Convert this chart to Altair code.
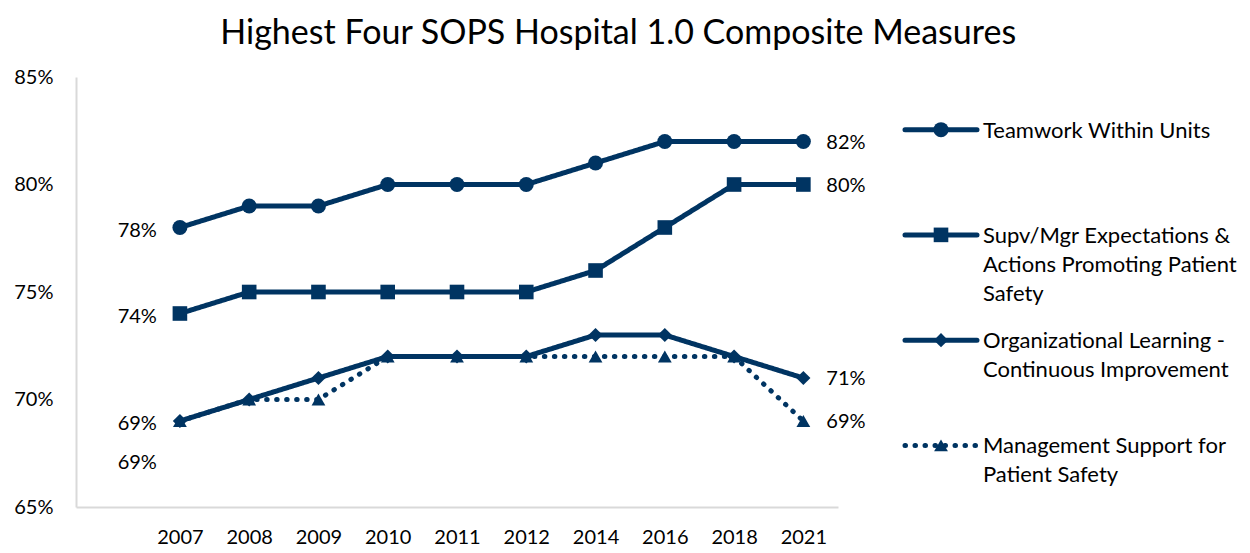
import altair as alt
import pandas as pd

years = ["2007", "2008", "2009", "2010", "2011", "2012", "2014", "2016", "2018", "2021"]
series = [
    "Teamwork Within Units",
    "Supv/Mgr Expectations & Actions Promoting Patient Safety",
    "Organizational Learning - Continuous Improvement",
    "Management Support for Patient Safety",
]
legend_lines = [
    ["Teamwork Within Units"],
    ["Supv/Mgr Expectations &", "Actions Promoting Patient", "Safety"],
    ["Organizational Learning -", "Continuous Improvement"],
    ["Management Support for", "Patient Safety"],
]
teamwork = [0.78, 0.79, 0.79, 0.80, 0.80, 0.80, 0.81, 0.82, 0.82, 0.82]
supv = [0.74, 0.75, 0.75, 0.75, 0.75, 0.75, 0.76, 0.78, 0.80, 0.80]
orglearn = [0.69, 0.70, 0.71, 0.72, 0.72, 0.72, 0.73, 0.73, 0.72, 0.71]
mgmt = [0.69, 0.70, 0.70, 0.72, 0.72, 0.72, 0.72, 0.72, 0.72, 0.69]
y_ticks = [0.65, 0.70, 0.75, 0.80, 0.85]

values = [teamwork, supv, orglearn, mgmt]
rows = []
for s, vals in zip(series, values):
    for yr, v in zip(years, vals):
        rows.append({"year": yr, "series": s, "value": v})
df = pd.DataFrame(rows)

leg_df = pd.DataFrame({"series": series, "label": ["\n".join(l) for l in legend_lines]})

NAVY = "#003462"
FONT = "Lato"
x_domain = [" "] + years

shape_scale = alt.Scale(domain=series, range=["circle", "square", "diamond", "triangle-up"])
size_scale = alt.Scale(domain=series, range=[225, 190, 200, 320])
dash_scale = alt.Scale(domain=series, range=[[1, 0], [1, 0], [1, 0], [0.5, 9.5]])

x_enc = alt.X(
    "year:O",
    scale=alt.Scale(type="point", domain=x_domain, padding=0.5),
    axis=alt.Axis(title=None, labelAngle=0, ticks=False, labelPadding=20,
                  domainColor="#d9d9d9", domainWidth=2),
)
y_enc = alt.Y(
    "value:Q",
    scale=alt.Scale(domain=[0.65, 0.85], nice=False, zero=False),
    axis=alt.Axis(title=None, values=y_ticks, format=".0%", grid=False, ticks=False,
                  labelPadding=23, domainColor="#d9d9d9", domainWidth=2),
)

base = alt.Chart(df).encode(x=x_enc, y=y_enc)

lines = base.mark_line(strokeWidth=5, strokeCap="round", strokeJoin="round", color=NAVY).encode(
    detail="series:N",
    strokeDash=alt.StrokeDash("series:N", scale=dash_scale, legend=None),
)
points = base.mark_point(filled=True, opacity=1, color=NAVY).encode(
    shape=alt.Shape("series:N", scale=shape_scale, legend=None),
    size=alt.Size("series:N", scale=size_scale, legend=None),
)

lbl_kw = dict(font=FONT, fontSize=20, color="#000000", baseline="middle")
left_labels = base.mark_text(align="right", dx=-23, dy=3, **lbl_kw).encode(
    text=alt.Text("value:Q", format=".0%")
).transform_filter(
    (alt.datum.year == years[0]) & (alt.datum.series != series[3])
)
left_label_low = base.mark_text(align="right", dx=-23, dy=42, **lbl_kw).encode(
    text=alt.Text("value:Q", format=".0%")
).transform_filter(
    (alt.datum.year == years[0]) & (alt.datum.series == series[3])
)
right_labels = base.mark_text(align="left", dx=23, dy=1, **lbl_kw).encode(
    text=alt.Text("value:Q", format=".0%")
).transform_filter(alt.datum.year == years[-1])

main = alt.layer(lines, points, left_labels, left_label_low, right_labels).properties(
    width=762, height=430
)

leg_y = alt.Y("series:N", scale=alt.Scale(type="point", domain=series, padding=0.5), axis=None)
leg_base = alt.Chart(leg_df).encode(y=leg_y)
leg_rule = leg_base.mark_rule(strokeWidth=5, strokeCap="round", color=NAVY).encode(
    x=alt.value(0), x2=alt.value(72),
    strokeDash=alt.StrokeDash("series:N", scale=dash_scale, legend=None),
)
leg_pt = leg_base.mark_point(filled=True, opacity=1, color=NAVY).encode(
    x=alt.value(36),
    shape=alt.Shape("series:N", scale=shape_scale, legend=None),
    size=alt.Size("series:N", scale=size_scale, legend=None),
)
leg_txt = leg_base.mark_text(align="left", baseline="line-top", dy=-13, lineBreak="\n",
                             lineHeight=29, font=FONT, fontSize=22, color="#000000").encode(
    x=alt.value(78), text="label:N"
)
legend = alt.layer(leg_rule, leg_pt, leg_txt).properties(width=250, height=421)

chart = alt.hconcat(main, legend, spacing=67, bounds="flush").properties(
    title=alt.TitleParams("Highest Four SOPS Hospital 1.0 Composite Measures",
                          font=FONT, fontSize=34, fontWeight="normal", color="#000000",
                          anchor="middle", offset=16, dx=-7),
    padding={"left": 5, "right": 5, "top": 9, "bottom": 5},
).configure_view(stroke=None).configure_axis(
    labelFont=FONT, labelFontSize=20, labelColor="#000000"
)

chart.save("out.html", embed_options={"renderer": "svg", "actions": False})
